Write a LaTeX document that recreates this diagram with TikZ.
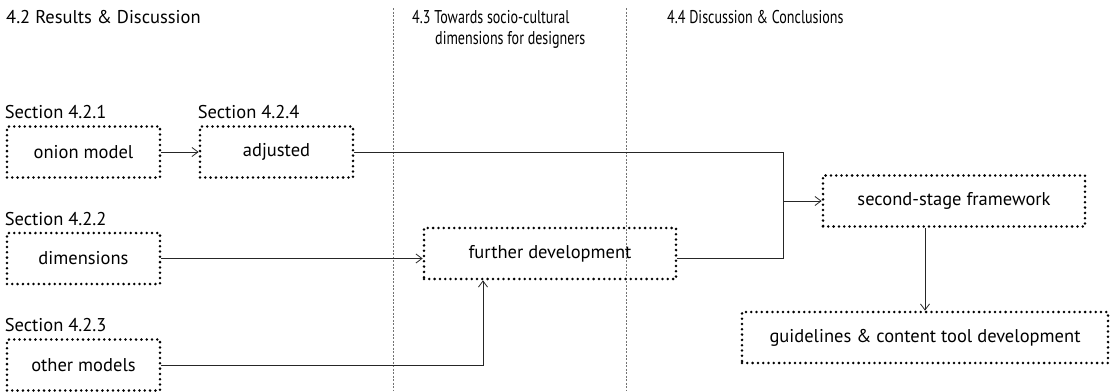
\documentclass[tikz,border=0pt]{standalone}
\usepackage{fontspec}
\setmainfont{PT Sans}
\usetikzlibrary{arrows.meta,positioning,calc}
\newcommand{\narrow}[1]{\scalebox{0.76}[1]{#1}}

\begin{document}
\begin{tikzpicture}[x=1pt, y=1pt,
  txt/.style={font=\fontsize{18.5}{21}\selectfont},
  box/.style={txt, draw, line width=2.8pt, dash pattern=on 0pt off 5.3pt, line cap=round,
              minimum height=51pt, inner sep=0pt},
  sec/.style={txt, anchor=south west, inner sep=0pt, yshift=6pt, xshift=-1pt},
  hdr/.style={txt, anchor=north west, inner sep=0pt, align=left},
  lnk/.style={line width=0.8pt, black!85},
  arr/.style={lnk, -{Straight Barb[length=6pt, width=9pt]}},
  sep/.style={black!55, line width=0.6pt, dash pattern=on 2pt off 1.5pt}
]
\useasboundingbox (0,0) rectangle (1115,-391);

% column separators
\draw[sep] (393,-8) -- (393,-391);
\draw[sep] (626,-8) -- (626,-391);

% headers
\node[hdr] (h42) at (6,-10) {4.2 Results \& Discussion};
\node[hdr] (h43) at (412,-10) {\narrow{4.3 Towards socio-cultural}\\\hspace{23pt}\narrow{dimensions for designers}};
\node[hdr] (h44) at (667,-10) {\narrow{4.4 Discussion \& Conclusions}};

% boxes
\node[box, minimum width=153pt] (om) at (83.5,-152) {onion model\hspace{12pt}};
\node[box, minimum width=153pt] (adj) at (276.5,-152) {adjusted\hspace{22pt}};
\node[box, minimum width=153pt] (dim) at (83.5,-258.5) {dimensions\hspace{14pt}};
\node[box, minimum width=153pt] (oth) at (83.5,-365) {other models\hspace{12pt}};
\node[box, minimum width=252pt] (fd) at (550,-253.5) {further development\hspace{22pt}};
\node[box, minimum width=262pt] (ssf) at (954,-201) {second-stage framework};
\node[box, minimum width=366pt] (gd) at (925,-337.5) {guidelines \& content tool development};

% section labels
\node[sec] (s421) at (om.north west) {Section 4.2.1};
\node[sec] (s424) at (adj.north west) {Section 4.2.4};
\node[sec] (s422) at (dim.north west) {Section 4.2.2};
\node[sec] (s423) at (oth.north west) {Section 4.2.3};

% connectors
\coordinate (jn) at (783,-258.5);
\draw[arr] (om) -- (adj);
\draw[arr] (dim.east) -- (dim.east -| fd.west);
\draw[arr] (oth.east) -| ([xshift=-67pt]fd.south);
\draw[lnk] (adj.east) -| (jn);
\draw[lnk] (fd.east |- jn) -- (jn);
\draw[arr] (jn |- ssf.west) -- (ssf.west);
\draw[arr] (ssf.south -| gd.north) -- (gd.north);
\end{tikzpicture}
\end{document}
